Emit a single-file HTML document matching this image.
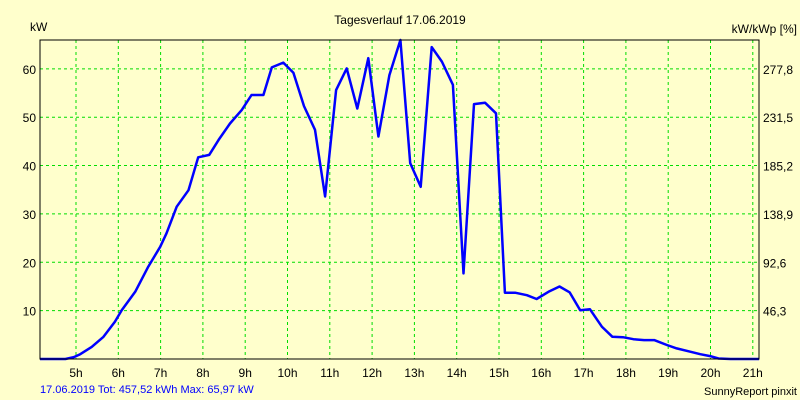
<!DOCTYPE html>
<html><head><meta charset="utf-8"><style>
body{margin:0;background:#ffffcc;}
svg{display:block;font-family:"Liberation Sans",Arial,sans-serif;}
</style></head><body>
<svg id="chart" width="800" height="400" viewBox="0 0 800 400">
<rect x="0" y="0" width="800" height="400" fill="#ffffcc"/>
<text x="400" y="24" font-size="12" text-anchor="middle">Tagesverlauf 17.06.2019</text>
<text x="30" y="31" font-size="12">kW</text>
<text x="797" y="33" font-size="12" text-anchor="end">kW/kWp [%]</text>
<g id="grid"></g>
<g id="ticks"></g>
<polyline id="line" fill="none" stroke="#0000ff" stroke-width="2.5" stroke-linejoin="round"/>
<rect x="40" y="40" width="719" height="319" fill="none" stroke="#000" stroke-width="1"/>
<text x="40" y="393" font-size="11" fill="#0000ff">17.06.2019 Tot: 457,52 kWh Max: 65,97 kW</text>
<text x="797" y="395" font-size="11" text-anchor="end">SunnyReport pinxit</text>
</svg>
<script>
const hours=[4.15,4.75,4.95,5.1,5.37,5.65,5.92,6.08,6.4,6.71,6.99,7.14,7.38,7.66,7.89,8.15,8.37,8.64,8.92,9.15,9.43,9.63,9.9,10.14,10.39,10.65,10.89,11.15,11.4,11.65,11.91,12.15,12.41,12.67,12.9,13.15,13.41,13.65,13.91,14.16,14.41,14.67,14.93,15.14,15.38,15.66,15.89,16.17,16.43,16.67,16.92,17.15,17.43,17.68,17.93,18.18,18.43,18.67,18.97,19.2,19.52,19.76,19.99,20.19,20.47,21.15];
const power=[0,0,0.4,1,2.5,4.6,7.7,10.1,13.9,19.1,23.2,26,31.5,34.9,41.7,42.2,45.3,48.7,51.5,54.6,54.6,60.3,61.3,59.2,52.3,47.4,33.6,55.6,60.1,51.8,62.2,46,58.7,65.97,40.5,35.6,64.5,61.5,56.7,17.7,52.7,53,50.8,13.7,13.7,13.2,12.4,13.9,15,13.8,10.1,10.3,6.7,4.6,4.5,4.1,3.9,3.9,2.9,2.2,1.5,1,0.6,0.1,0,0];
const hourTicks=[5,6,7,8,9,10,11,12,13,14,15,16,17,18,19,20,21];
const hourLabels=["5h","6h","7h","8h","9h","10h","11h","12h","13h","14h","15h","16h","17h","18h","19h","20h","21h"];
const kwTicks=[10,20,30,40,50,60];
const pctLabels=["46,3","92,6","138,9","185,2","231,5","277,8"];
const NS="http://www.w3.org/2000/svg";
const X=h=>76+(h-5)*42.3;
const Y=v=>Math.min(359,359-v*4.836);
const grid=document.getElementById('grid'),ticks=document.getElementById('ticks');
function mk(tag,attrs,parent,txt){const e=document.createElementNS(NS,tag);for(const k in attrs)e.setAttribute(k,attrs[k]);if(txt!==undefined)e.textContent=txt;parent.appendChild(e);return e;}
hourTicks.forEach((h,i)=>{
 const l=mk('line',{x1:X(h),x2:X(h),y1:40,y2:359,stroke:'#00dd00','stroke-dasharray':'3,3'},grid);
 
 
 const t=mk('text',{x:X(h),y:377,'font-size':12,'text-anchor':'middle'},ticks,hourLabels[i]);
 
 
});
kwTicks.forEach((v,i)=>{
 const l=mk('line',{x1:40,x2:759,y1:Y(v),y2:Y(v),stroke:'#00dd00','stroke-dasharray':'3,3'},grid);
 
 
 const t=mk('text',{x:36,y:Y(v)+5,'font-size':12,'text-anchor':'end'},ticks,String(v));
 
 
 const r=mk('text',{x:763,y:Y(v)+5,'font-size':12},ticks,pctLabels[i]);
 
 
});
document.getElementById('line').setAttribute('points',hours.map((h,i)=>X(h).toFixed(1)+','+Y(power[i]).toFixed(1)).join(' '));
</script>
</body></html>
